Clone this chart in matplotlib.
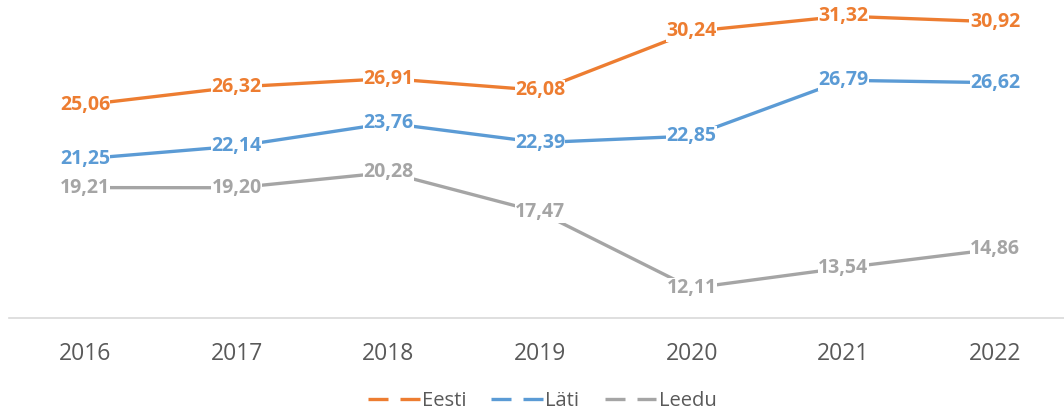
import matplotlib.pyplot as plt
from matplotlib.lines import Line2D

# data
years = ['2016', '2017', '2018', '2019', '2020', '2021', '2022']
eesti = [25.06, 26.32, 26.91, 26.08, 30.24, 31.32, 30.92]
lati = [21.25, 22.14, 23.76, 22.39, 22.85, 26.79, 26.62]
leedu = [19.21, 19.20, 20.28, 17.47, 12.11, 13.54, 14.86]

series = [('Eesti', eesti, '#ED7D31'),
          ('Läti', lati, '#5B9BD5'),
          ('Leedu', leedu, '#A5A5A5')]

plt.rcParams['font.family'] = ['Open Sans', 'DejaVu Sans']

fig = plt.figure(figsize=(10.64, 4.13), dpi=100)
ax = fig.add_axes([9 / 1064, 1 - 318 / 413, 1055 / 1064, 318 / 413])

x = list(range(len(years)))
for name, vals, col in series:
    ax.plot(x, vals, color=col, lw=2.4, solid_capstyle='round', zorder=2)
    for xi, v in zip(x, vals):
        ax.text(xi, v, f'{v:.2f}'.replace('.', ','), color=col, fontsize=14,
                fontweight='bold', ha='center', va='center', zorder=3,
                bbox=dict(facecolor='white', edgecolor='none', pad=0.3))

ax.set_xlim(-0.501, 6.455)
ax.set_ylim(10, 32.46)
ax.set_xticks(x)
ax.set_xticklabels(years, fontsize=16.5, color='#595959')
ax.set_yticks([])
ax.tick_params(axis='x', length=0, pad=17)
for s in ['top', 'right', 'left']:
    ax.spines[s].set_visible(False)
ax.spines['bottom'].set_color('#D9D9D9')
ax.spines['bottom'].set_linewidth(1.2)

handles = [Line2D([0], [0], color=col, lw=2.4, ls=(0, (6, 3.6))) for _, _, col in series]
fig.legend(handles, [s[0] for s in series], loc='center', bbox_to_anchor=(0.5094, 1 - 401 / 413),
           ncol=3, frameon=False, fontsize=14.5, labelcolor='#595959',
           handlelength=2.58, handletextpad=0.1, columnspacing=1.25)

fig.savefig('out.png', dpi=100)
